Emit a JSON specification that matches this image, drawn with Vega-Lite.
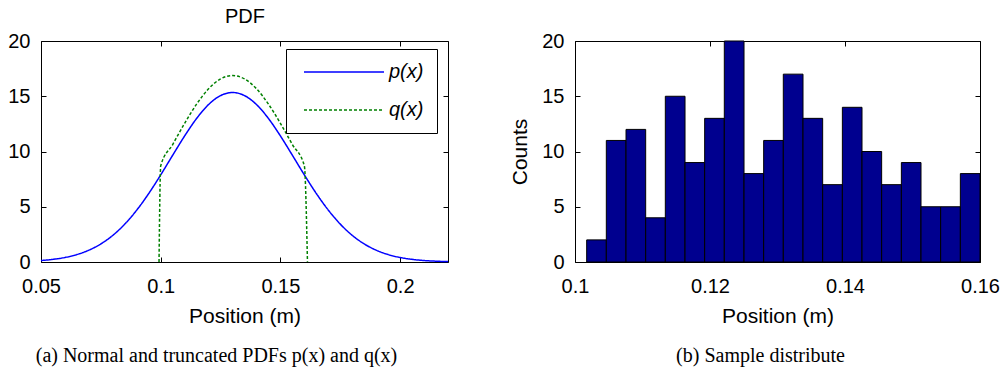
{
  "$schema": "https://vega.github.io/schema/vega-lite/v6.json",
  "background": "white",
  "padding": {"left": 7, "top": 6, "right": 5, "bottom": 5},
  "config": {
    "font": "Liberation Sans",
    "view": {"stroke": "black", "strokeWidth": 1},
    "axis": {
      "grid": false, "domain": false, "tickColor": "black", "tickSize": -5, "tickWidth": 1,
      "labelFont": "Liberation Sans", "labelFontSize": 20, "labelColor": "black",
      "labelFlush": false, "labelOverlap": false,
      "titleFont": "Liberation Sans", "titleFontSize": 21, "titleFontWeight": "normal", "titleColor": "black"
    },
    "axisX": {"labelPadding": 19},
    "axisY": {"labelPadding": 16},
    "title": {"font": "Liberation Serif", "fontSize": 20, "fontWeight": "normal", "color": "black"}
  },
  "datasets": {
    "pdf": [
      {"x": 0.050, "y": 0.135, "series": "p(x)"},
      {"x": 0.055, "y": 0.239, "series": "p(x)"},
      {"x": 0.060, "y": 0.409, "series": "p(x)"},
      {"x": 0.065, "y": 0.674, "series": "p(x)"},
      {"x": 0.070, "y": 1.070, "series": "p(x)"},
      {"x": 0.075, "y": 1.637, "series": "p(x)"},
      {"x": 0.080, "y": 2.414, "series": "p(x)"},
      {"x": 0.085, "y": 3.430, "series": "p(x)"},
      {"x": 0.090, "y": 4.697, "series": "p(x)"},
      {"x": 0.095, "y": 6.199, "series": "p(x)"},
      {"x": 0.100, "y": 7.883, "series": "p(x)"},
      {"x": 0.105, "y": 9.661, "series": "p(x)"},
      {"x": 0.110, "y": 11.41, "series": "p(x)"},
      {"x": 0.115, "y": 12.99, "series": "p(x)"},
      {"x": 0.120, "y": 14.25, "series": "p(x)"},
      {"x": 0.125, "y": 15.06, "series": "p(x)"},
      {"x": 0.130, "y": 15.34, "series": "p(x)"},
      {"x": 0.135, "y": 15.06, "series": "p(x)"},
      {"x": 0.140, "y": 14.25, "series": "p(x)"},
      {"x": 0.145, "y": 12.99, "series": "p(x)"},
      {"x": 0.150, "y": 11.41, "series": "p(x)"},
      {"x": 0.155, "y": 9.661, "series": "p(x)"},
      {"x": 0.160, "y": 7.883, "series": "p(x)"},
      {"x": 0.165, "y": 6.199, "series": "p(x)"},
      {"x": 0.170, "y": 4.697, "series": "p(x)"},
      {"x": 0.175, "y": 3.430, "series": "p(x)"},
      {"x": 0.180, "y": 2.414, "series": "p(x)"},
      {"x": 0.185, "y": 1.637, "series": "p(x)"},
      {"x": 0.190, "y": 1.070, "series": "p(x)"},
      {"x": 0.195, "y": 0.674, "series": "p(x)"},
      {"x": 0.200, "y": 0.409, "series": "p(x)"},
      {"x": 0.205, "y": 0.239, "series": "p(x)"},
      {"x": 0.210, "y": 0.135, "series": "p(x)"},
      {"x": 0.215, "y": 0.073, "series": "p(x)"},
      {"x": 0.220, "y": 0.038, "series": "p(x)"},
      {"x": 0.0993, "y": 0, "series": "q(x)"},
      {"x": 0.100, "y": 8.70, "series": "q(x)"},
      {"x": 0.105, "y": 10.63, "series": "q(x)"},
      {"x": 0.110, "y": 12.55, "series": "q(x)"},
      {"x": 0.115, "y": 14.29, "series": "q(x)"},
      {"x": 0.120, "y": 15.68, "series": "q(x)"},
      {"x": 0.125, "y": 16.57, "series": "q(x)"},
      {"x": 0.130, "y": 16.87, "series": "q(x)"},
      {"x": 0.135, "y": 16.57, "series": "q(x)"},
      {"x": 0.140, "y": 15.68, "series": "q(x)"},
      {"x": 0.145, "y": 14.29, "series": "q(x)"},
      {"x": 0.150, "y": 12.55, "series": "q(x)"},
      {"x": 0.155, "y": 10.63, "series": "q(x)"},
      {"x": 0.160, "y": 8.70, "series": "q(x)"},
      {"x": 0.1613, "y": 0, "series": "q(x)"}
    ],
    "hist": [
      {"bin_start": 0.10173, "bin_end": 0.10464, "count": 2},
      {"bin_start": 0.10464, "bin_end": 0.10756, "count": 11},
      {"bin_start": 0.10756, "bin_end": 0.11047, "count": 12},
      {"bin_start": 0.11047, "bin_end": 0.11338, "count": 4},
      {"bin_start": 0.11338, "bin_end": 0.11630, "count": 15},
      {"bin_start": 0.11630, "bin_end": 0.11921, "count": 9},
      {"bin_start": 0.11921, "bin_end": 0.12212, "count": 13},
      {"bin_start": 0.12212, "bin_end": 0.12504, "count": 20},
      {"bin_start": 0.12504, "bin_end": 0.12795, "count": 8},
      {"bin_start": 0.12795, "bin_end": 0.13086, "count": 11},
      {"bin_start": 0.13086, "bin_end": 0.13378, "count": 17},
      {"bin_start": 0.13378, "bin_end": 0.13669, "count": 13},
      {"bin_start": 0.13669, "bin_end": 0.13961, "count": 7},
      {"bin_start": 0.13961, "bin_end": 0.14252, "count": 14},
      {"bin_start": 0.14252, "bin_end": 0.14543, "count": 10},
      {"bin_start": 0.14543, "bin_end": 0.14835, "count": 7},
      {"bin_start": 0.14835, "bin_end": 0.15126, "count": 9},
      {"bin_start": 0.15126, "bin_end": 0.15417, "count": 5},
      {"bin_start": 0.15417, "bin_end": 0.15709, "count": 5},
      {"bin_start": 0.15709, "bin_end": 0.16000, "count": 8}
    ]
  },
  "hconcat": [
    {
      "title": {"text": "(a) Normal and truncated PDFs p(x) and q(x)", "orient": "bottom", "anchor": "middle", "offset": 20, "dx": -28},
      "width": 407,
      "height": 221,
      "data": {"name": "pdf"},
      "layer": [
        {
          "mark": {"type": "line", "interpolate": "monotone", "strokeWidth": 1.5},
          "encoding": {
            "x": {"field": "x", "type": "quantitative", "scale": {"domain": [0.05, 0.22], "nice": false, "zero": false},
                  "axis": {"orient": "bottom", "values": [0.05, 0.1, 0.15, 0.2], "format": "~g", "title": "Position (m)", "titlePadding": 9}},
            "y": {"field": "y", "type": "quantitative", "scale": {"domain": [0, 20], "nice": false},
                  "axis": {"orient": "left", "values": [0, 5, 10, 15, 20], "title": null}},
            "color": {"field": "series", "type": "nominal",
                      "scale": {"domain": ["p(x)", "q(x)"], "range": ["#0000FF", "#008000"]},
                      "legend": {"orient": "none", "legendX": 245, "legendY": 8, "title": null,
                                 "symbolType": "M-8,0H8", "symbolSize": 100, "symbolStrokeWidth": 1.5,
                                 "labelFont": "Liberation Sans", "labelFontStyle": "italic", "labelFontSize": 20, "labelColor": "black",
                                 "strokeColor": "black", "fillColor": "white", "padding": 13, "rowPadding": 18,
                                 "labelOffset": 35, "symbolOffset": 35}},
            "strokeDash": {"field": "series", "type": "nominal",
                           "scale": {"domain": ["p(x)", "q(x)"], "range": [[1, 0], [3, 2]]},
                           "legend": {"orient": "none", "legendX": 245, "legendY": 8, "title": null,
                                 "symbolType": "M-8,0H8", "symbolSize": 100, "symbolStrokeWidth": 1.5,
                                 "labelFont": "Liberation Sans", "labelFontStyle": "italic", "labelFontSize": 20, "labelColor": "black",
                                 "strokeColor": "black", "fillColor": "white", "padding": 13, "rowPadding": 18,
                                 "labelOffset": 35, "symbolOffset": 35}}
          }
        },
        {
          "mark": {"type": "point", "opacity": 0},
          "encoding": {
            "x": {"field": "x", "type": "quantitative", "scale": {"domain": [0.05, 0.22], "nice": false, "zero": false},
                  "axis": {"orient": "top", "values": [0.05, 0.1, 0.15, 0.2], "labels": false, "title": "PDF", "titlePadding": 14, "titleFontSize": 20}},
            "y": {"field": "y", "type": "quantitative", "scale": {"domain": [0, 20], "nice": false},
                  "axis": {"orient": "right", "values": [0, 5, 10, 15, 20], "labels": false, "title": null}}
          }
        }
      ],
      "resolve": {"axis": {"x": "independent", "y": "independent"}}
    },
    {
      "title": {"text": "(b) Sample distribute", "orient": "bottom", "anchor": "middle", "offset": 20, "dx": -17},
      "width": 405,
      "height": 221,
      "data": {"name": "hist"},
      "layer": [
        {
          "mark": {"type": "bar", "fill": "#00008F", "stroke": "black", "strokeWidth": 1},
          "encoding": {
            "x": {"field": "bin_start", "type": "quantitative", "scale": {"domain": [0.1, 0.16], "nice": false, "zero": false},
                  "axis": {"orient": "bottom", "values": [0.1, 0.12, 0.14, 0.16], "format": "~g", "title": "Position (m)", "titlePadding": 9}},
            "x2": {"field": "bin_end"},
            "y": {"field": "count", "type": "quantitative", "scale": {"domain": [0, 20], "nice": false},
                  "axis": {"orient": "left", "values": [0, 5, 10, 15, 20], "title": "Counts", "titlePadding": 11}},
            "y2": {"datum": 0}
          }
        },
        {
          "mark": {"type": "point", "opacity": 0},
          "encoding": {
            "x": {"field": "bin_start", "type": "quantitative", "scale": {"domain": [0.1, 0.16], "nice": false, "zero": false},
                  "axis": {"orient": "top", "values": [0.1, 0.12, 0.14, 0.16], "labels": false, "title": null}},
            "y": {"field": "count", "type": "quantitative", "scale": {"domain": [0, 20], "nice": false},
                  "axis": {"orient": "right", "values": [0, 5, 10, 15, 20], "labels": false, "title": null}}
          }
        }
      ],
      "resolve": {"axis": {"x": "independent", "y": "independent"}}
    }
  ],
  "spacing": 127,
  "bounds": "flush"
}
